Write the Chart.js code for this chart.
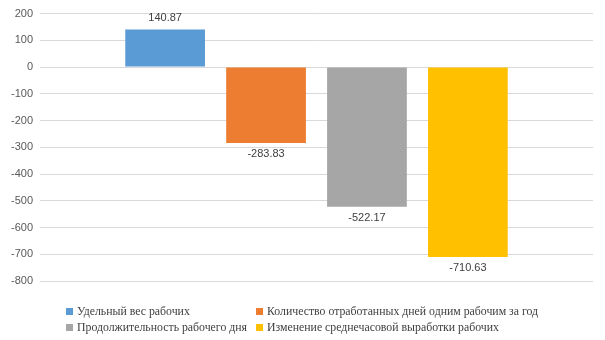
<!DOCTYPE html>
<html>
<head>
<meta charset="utf-8">
<script src="https://cdn.jsdelivr.net/npm/chart.js@4/dist/chart.umd.min.js"></script>
<style>
  html, body { margin: 0; padding: 0; background: #fff; }
  #wrap { width: 605px; height: 340px; }
</style>
</head>
<body>
<div id="wrap"><canvas id="factorChart"></canvas></div>
<script>
const categories = [''];
const seriesNames = [
	'Удельный вес рабочих',
	'Количество отработанных дней одним рабочим за год',
	'Продолжительность рабочего дня',
	'Изменение среднечасовой выработки рабочих'
];
const seriesValues = [140.87, -283.83, -522.17, -710.63];
const seriesColors = ['#5B9BD5', '#ED7D31', '#A5A5A5', '#FFC000'];
const yTicks = [200, 100, 0, -100, -200, -300, -400, -500, -600, -700, -800];

const ctx = document.getElementById('factorChart').getContext('2d');

// faint dotted fill, like the grey bar in the original
function dotted(base) {
	const p = document.createElement('canvas');
	p.width = 4; p.height = 4;
	const pc = p.getContext('2d');
	pc.fillStyle = base;
	pc.fillRect(0, 0, 4, 4);
	pc.fillStyle = '#ADADAD';
	pc.fillRect(0, 0, 1, 1);
	pc.fillRect(2, 2, 1, 1);
	return ctx.createPattern(p, 'repeat');
}

// value labels above / below each bar
const valueLabels = {
	id: 'valueLabels',
	afterDatasetsDraw(chart) {
		const c = chart.ctx;
		c.save();
		c.font = '11px "Liberation Sans", Arial, sans-serif';
		c.fillStyle = '#404040';
		c.textAlign = 'center';
		c.textBaseline = 'middle';
		chart.data.datasets.forEach((ds, i) => {
			const bar = chart.getDatasetMeta(i).data[0];
			const v = ds.data[0];
			const y = v >= 0 ? bar.y - 11 : bar.y + 11;
			c.fillText(v.toFixed(2), bar.x, y);
		});
		c.restore();
	}
};

// two-column legend at the bottom
const gridLegend = {
	id: 'gridLegend',
	afterDraw(chart) {
		const c = chart.ctx;
		const cols = [66, 256];
		const rows = [312, 328];
		c.save();
		c.font = '11.8px "Liberation Serif", "Times New Roman", serif';
		c.textBaseline = 'middle';
		c.textAlign = 'left';
		chart.data.datasets.forEach((ds, i) => {
			const x = cols[i % 2];
			const y = rows[Math.floor(i / 2)];
			c.fillStyle = ds.backgroundColor;
			c.fillRect(x, y - 4, 7, 7);
			c.fillStyle = '#404040';
			c.fillText(ds.label, x + 11, y);
		});
		c.restore();
	}
};

const data = {
	labels: categories,
	datasets: seriesNames.map((name, i) => ({
		label: name,
		data: [seriesValues[i]],
		backgroundColor: i === 2 ? dotted(seriesColors[i]) : seriesColors[i],
		categoryPercentage: 0.73,
		barPercentage: 0.79
	}))
};

const options = {
	responsive: true,
	maintainAspectRatio: false,
	animation: false,
	layout: { padding: { top: 8, right: 12, bottom: 59, left: 0 } },
	plugins: {
		legend: { display: false },
		tooltip: { enabled: false }
	},
	scales: {
		x: { display: false },
		y: {
			min: -800,
			max: 200,
			afterFit(scale) { scale.width = 40; },
			afterBuildTicks(scale) { scale.ticks = yTicks.map(v => ({ value: v })); },
			grid: { color: '#D9D9D9', lineWidth: 1, drawTicks: false },
			border: { display: false },
			ticks: {
				padding: 7,
				color: '#595959',
				font: { family: '"Liberation Sans", Arial, sans-serif', size: 11 }
			}
		}
	}
};

let chart = new Chart(ctx, {
	type: 'bar',
	data: data,
	options: options,
	plugins: [valueLabels, gridLegend]
});
</script>
</body>
</html>
